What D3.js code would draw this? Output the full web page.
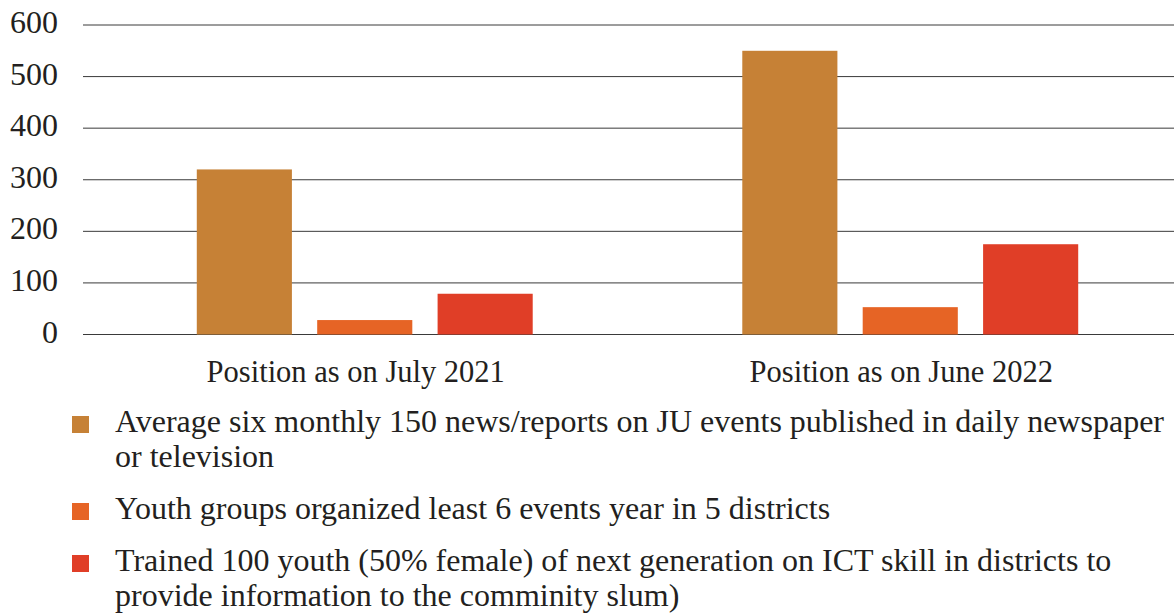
<!DOCTYPE html>
<html>
<head>
<meta charset="utf-8">
<script src="https://cdn.jsdelivr.net/npm/d3@7"></script>
<style>
  html, body { margin: 0; padding: 0; background: #fff; }
  svg { display: block; }
  svg text { font-family: 'Liberation Serif', 'DejaVu Serif', serif; fill: #231f20; }
</style>
</head>
<body>
<svg id="chart" width="1174" height="616"></svg>
<script>
// ---- data ----
const categories = ["Position as on July 2021", "Position as on June 2022"];
const seriesNames = [
  "Average six monthly 150 news/reports on JU events published in daily newspaper or television",
  "Youth groups organized least 6 events year in 5 districts",
  "Trained 100 youth (50% female) of next generation on ICT skill in districts to provide information to the comminity slum)"
];
const seriesA = [320, 550];
const seriesB = [28, 53];
const seriesC = [79, 175];
const yTicks = [0, 100, 200, 300, 400, 500, 600];
const colors = ["#c68136", "#e66425", "#e03e27"];

const seriesValues = [seriesA, seriesB, seriesC];
const FONT = "'Liberation Serif', 'DejaVu Serif', serif";

// ---- layout ----
const svg = d3.select("#chart");
const plotLeft = 83, plotRight = 1174, plotTop = 25, plotBottom = 334.5;

const y = d3.scaleLinear().domain([0, 600]).range([plotBottom, plotTop]);
const x0 = d3.scaleBand().domain(categories).range([plotLeft, plotRight]).padding(0);
const x1 = d3.scaleBand().domain(d3.range(seriesNames.length))
  .range([0, 360]).paddingInner(0.21).paddingOuter(0.1);
const groupOffset = (x0.bandwidth() - 360) / 2 + 9;

// gridlines
svg.append("g").selectAll("line").data(yTicks).join("line")
  .attr("x1", plotLeft).attr("x2", plotRight)
  .attr("y1", d => y(d)).attr("y2", d => y(d))
  .attr("stroke", "#3a3a3a").attr("stroke-width", 1);

// y tick labels
svg.append("g").selectAll("text").data(yTicks).join("text")
  .attr("x", 58).attr("y", d => y(d) + 8)
  .attr("text-anchor", "end")
  .attr("font-family", FONT)
  .style("font-size", "32px")
  .text(d => d);

// bars
const groups = svg.append("g").selectAll("g").data(categories).join("g")
  .attr("transform", c => `translate(${x0(c) + groupOffset},0)`);
groups.selectAll("rect")
  .data((c, ci) => seriesValues.map((vals, si) => ({ si, v: vals[ci] })))
  .join("rect")
  .attr("x", d => x1(d.si))
  .attr("y", d => y(d.v))
  .attr("width", x1.bandwidth())
  .attr("height", d => y(0) - y(d.v))
  .attr("fill", d => colors[d.si]);

// category labels
svg.append("g").selectAll("text").data(categories).join("text")
  .attr("x", c => x0(c) + x0.bandwidth() / 2)
  .attr("y", 382)
  .attr("text-anchor", "middle")
  .attr("font-family", FONT)
  .style("font-size", "30.5px")
  .text(c => c);

// legend
const legend = svg.append("g");
const textX = 115, maxW = 1054, lineH = 35, itemGap = 17;
let baseline = 432;
seriesNames.forEach((name, i) => {
  const t = legend.append("text").attr("x", textX).attr("y", baseline)
    .attr("font-family", FONT).style("font-size", "32px");
  const words = name.split(" ");
  let line = [];
  let tspan = t.append("tspan").attr("x", textX).attr("y", baseline);
  let lines = 1;
  words.forEach(w => {
    line.push(w);
    tspan.text(line.join(" "));
    if (tspan.node().getComputedTextLength() > maxW && line.length > 1) {
      line.pop();
      tspan.text(line.join(" "));
      line = [w];
      tspan = t.append("tspan").attr("x", textX).attr("y", baseline + lines * lineH).text(w);
      lines++;
    }
  });
  legend.append("rect")
    .attr("x", 72).attr("y", baseline - 16)
    .attr("width", 17).attr("height", 17)
    .attr("fill", colors[i]);
  baseline += lines * lineH + itemGap;
});
</script>
</body>
</html>
